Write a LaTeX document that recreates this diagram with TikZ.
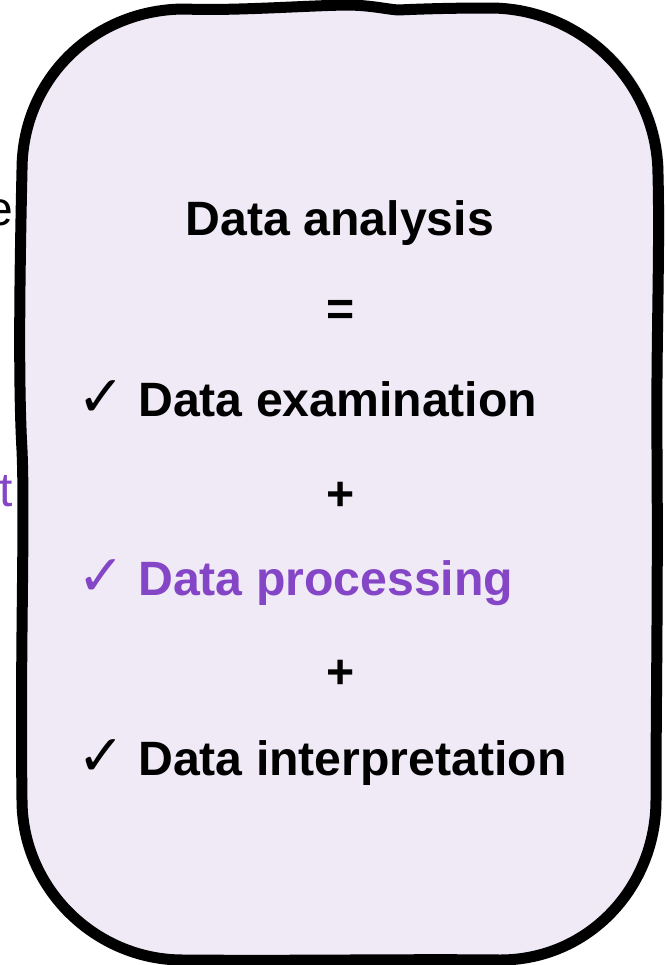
\documentclass[tikz,border=0pt]{standalone}
\usepackage{fontspec}
\setmainfont{Liberation Sans}
\newfontfamily\symfont{DejaVu Sans}
\definecolor{boxfill}{HTML}{F0EAF7}
\definecolor{procpurple}{HTML}{8446C6}
\begin{document}
\begin{tikzpicture}[x=1bp,y=-1bp,
  termtext/.style={inner sep=0pt, font=\fontsize{48.2bp}{50bp}\selectfont\bfseries},
  sidetext/.style={inner sep=0pt, font=\fontsize{48bp}{50bp}\selectfont},
  checkmk/.style={inner sep=0pt, font=\fontsize{57bp}{60bp}\symfont},
  outline/.style={line width=11bp, line join=round, line cap=round, draw=black}]
\useasboundingbox (0,0) rectangle (666,965);

% words of the page behind the card, cut off at the left margin
\node[sidetext, anchor=base east] (behindA) at (13.5,225) {e};
\node[sidetext, anchor=base east, text=procpurple] (behindB) at (12.6,506) {t};

% card fill, slightly offset from the hand-drawn outline
\fill[boxfill]
  (22,170) .. controls (22,79) and (94,9) .. (185,8)
  .. controls (230,10) and (300,5) .. (345,4)
  .. controls (370,4) and (385,8) .. (398,9)
  .. controls (420,8) and (450,5) .. (490,5)
  .. controls (590,4) and (664,80) .. (664,175)
  .. controls (666,250) and (662,350) .. (663,450)
  .. controls (664,600) and (662,700) .. (662,800)
  .. controls (662,892) and (590,962) .. (500,962)
  .. controls (400,961) and (300,963) .. (183,962)
  .. controls (95,960) and (22,888) .. (22,800)
  .. controls (20,650) and (25,520) .. (22,450)
  .. controls (18,380) and (20,260) .. cycle;

% hand-drawn outline of the card
\draw[outline]
  (22,170) .. controls (22,79) and (94,9) .. (185,9)
  .. controls (230,11) and (300,6) .. (345,5)
  .. controls (370,5) and (385,9) .. (398,10)
  .. controls (420,9) and (450,8) .. (490,8)
  .. controls (582,8) and (658,83) .. (658,175)
  .. controls (660,250) and (656,350) .. (657,450)
  .. controls (658,600) and (656,700) .. (656,800)
  .. controls (656,888) and (588,960) .. (500,960)
  .. controls (400,959) and (300,961) .. (183,960)
  .. controls (95,960) and (22,888) .. (22,800)
  .. controls (20,650) and (25,520) .. (22,450)
  .. controls (18,380) and (20,260) .. cycle;

% the equation
\node[termtext, anchor=base] (title) at (340,235) {Data analysis};
\node[termtext] (eq) at (341,313) {=};
\node[checkmk, anchor=base west] (chkA) at (77,416) {✓};
\node[termtext, anchor=base west] (exam) at (138,416) {Data examination};
\node[termtext] (plusA) at (341,496) {+};
\node[checkmk, anchor=base west, text=procpurple] (chkB) at (77,595) {✓};
\node[termtext, anchor=base west, text=procpurple] (proc) at (138,595) {Data processing};
\node[termtext] (plusB) at (341,674) {+};
\node[checkmk, anchor=base west] (chkC) at (77,775) {✓};
\node[termtext, anchor=base west] (interp) at (138,775) {Data interpretation};
\end{tikzpicture}
\end{document}
